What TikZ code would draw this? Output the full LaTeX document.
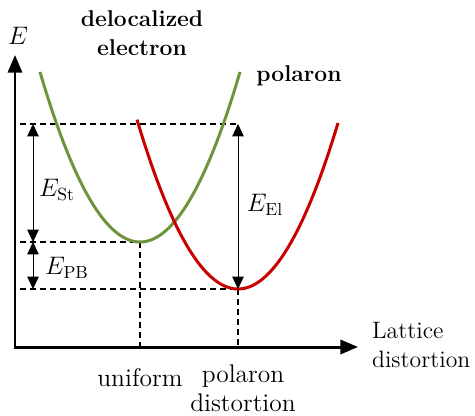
\documentclass[tikz,border=0pt]{standalone}
\usepackage{tikz}
\usetikzlibrary{arrows.meta, positioning, calc}
\definecolor{wellgreen}{RGB}{112,148,60}
\definecolor{wellred}{RGB}{200,0,0}
\tikzset{
  axis/.style  = {line width=1.7pt,
                  {Triangle[length=10pt,width=8pt]}-{Triangle[length=10pt,width=8pt]}},
  level/.style = {line width=0.6pt, dash pattern=on 3.4pt off 2.3pt},
  gap/.style   = {line width=0.5pt,
                  {Triangle[length=7pt,width=6.5pt]}-{Triangle[length=7pt,width=6.5pt]}},
  well/.style  = {line width=1.7pt},
  lbl/.style   = {font=\fontsize{14.5}{16.5}\selectfont, align=center, inner sep=1pt},
  title/.style = {font=\fontsize{13}{16.5}\selectfont\bfseries, align=center, inner sep=1pt},
}

\begin{document}
\begin{tikzpicture}[x=0.02cm, y=-0.02cm]
  \useasboundingbox (0,0) rectangle (475,415);

  % Key points
  \coordinate (origin) at (15,347);
  \coordinate (ytip)   at (15,55);
  \coordinate (xtip)   at (358,347);
  \coordinate (gmin)   at (140,242);
  \coordinate (rmin)   at (238,289);
  \coordinate (topL)   at (20,124);
  \coordinate (topR)   at (238,124);
  \coordinate (midL)   at (20,242);
  \coordinate (lowL)   at (20,289);
  \coordinate (gfoot)  at (140,347);
  \coordinate (rfoot)  at (238,347);
  \coordinate (stTop)  at (33,124);
  \coordinate (stBot)  at (33,242);
  \coordinate (pbBot)  at (33,289);

  % Dashed levels
  \draw[level] (topL) -- (topR);
  \draw[level] (midL) -- (gmin);
  \draw[level] (lowL) -- (rmin);
  \draw[level] (gmin) -- (gfoot);
  \draw[level] (rmin) -- (rfoot);

  % Potential wells
  \draw[well, wellgreen] plot[domain=-100:100, samples=61]
        ({140+\x}, {242-170*(\x/100)*(\x/100)});
  \draw[well, wellred] plot[domain=-101:100, samples=61]
        ({238+\x}, {289-166*(\x/100)*(\x/100)});

  % Axes
  \draw[axis] (ytip) -- (origin) -- (xtip);

  % Energy gaps
  \draw[gap] (stTop) -- (stBot);
  \draw[gap] (stBot) -- (pbBot);
  \draw[gap] (topR) -- (rmin);

  % Labels
  \node[lbl] (elabel) at (18,36) {$E$};
  \node[lbl] (est) at (57,190) {$E_{\mathrm{St}}$};
  \node[lbl] (epb) at (67,268) {$E_{\mathrm{PB}}$};
  \node[lbl] (eel) at (265,205) {$E_{\mathrm{El}}$};
  \node[title] (deloc) at (142,33) {delocalized\\electron};
  \node[title] (pol) at (299,76) {polaron};
  \node[lbl, anchor=west, align=left, font=\fontsize{13.5}{16.5}\selectfont]
        (xlabel) at (370,345) {Lattice\\distortion};
  \node[lbl] (uni) at (140,378) {uniform};
  \node[lbl] (poldist) at (243,388) {polaron\\distortion};
\end{tikzpicture}
\end{document}
